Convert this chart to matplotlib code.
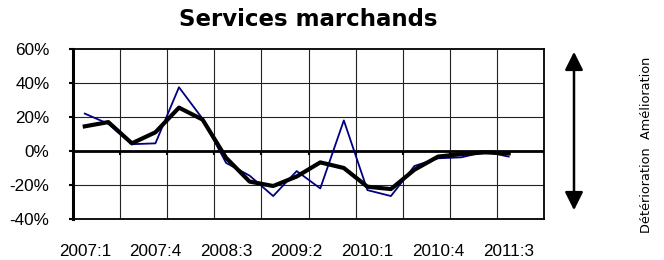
import matplotlib
matplotlib.use("Agg")
import matplotlib.pyplot as plt
import numpy as np

quarters = [f"{y}:{q}" for y in range(2007, 2012) for q in range(1, 5)]  # 20 categories
solde = [22, 16, 4, 4.5, 37.5, 19, -7, -14.5, -26.5, -11.8, -22, 18, -23, -26.5, -8.8, -4.3, -3.7, -0.4, -3.3]
lisse = [14.5, 17, 4.5, 11, 25.5, 18.5, -4, -18, -20.6, -15, -6.7, -10, -21, -22.4, -11, -3.3, -1.8, -0.8, -1.4]
yticks = [-40, -20, 0, 20, 40, 60]
label_idx = [0, 3, 6, 9, 12, 15, 18]

fig = plt.figure(figsize=(6.64, 2.6), dpi=100)
ax = fig.add_axes([73/664, 41/260, 471/664, 170/260])

x = np.arange(len(solde))
ax.plot(x, solde, color="#000080", lw=1.3, zorder=3)
ax.plot(x, lisse, color="black", lw=3.0, solid_joinstyle="round", zorder=4)

ax.set_xlim(-0.5, len(quarters) - 0.5)
ax.set_ylim(-40, 60)
ax.set_yticks(yticks)
ax.set_yticklabels([f"{v}%" for v in yticks], family="Liberation Sans", fontsize=12.3)
ax.tick_params(axis="y", length=3, width=1.5, pad=14)

ax.set_xticks(label_idx)
ax.set_xticklabels([quarters[i] for i in label_idx], family="Liberation Sans", fontsize=12.3)
ax.tick_params(axis="x", length=0, pad=18)

for g in np.arange(-0.5, len(quarters), 2)[1:-1]:
    ax.axvline(g, color="#222222", lw=0.8, zorder=1)
for v in yticks[1:-1]:
    ax.axhline(v, color="#222222", lw=0.8, zorder=1)
ax.axhline(0, color="black", lw=2.0, zorder=2)
ax.vlines(np.arange(-0.5, len(quarters), 2)[1:], -2.5, 0, color="black", lw=1.5, zorder=2)

for s in ["top", "right", "bottom"]:
    ax.spines[s].set_linewidth(1.3)
ax.spines["left"].set_linewidth(2.2)

fig.text(308.5/664, 1 - 20/260, "Services marchands", ha="center", va="center",
         fontsize=16.5, fontweight="bold", family="DejaVu Sans")

fig.patches.append(matplotlib.patches.FancyArrowPatch(
    (574/664, 1 - 213/260), (574/664, 1 - 49/260), transform=fig.transFigure,
    arrowstyle="<|-|>,head_length=1.1,head_width=0.55", mutation_scale=10,
    color="black", lw=1.8))

fig.text(646/664, 1 - 145/260, "Détérioration  Amélioration", rotation=90,
         ha="center", va="center", fontsize=9.3, family="DejaVu Sans")

fig.savefig("out.png", dpi=100)
